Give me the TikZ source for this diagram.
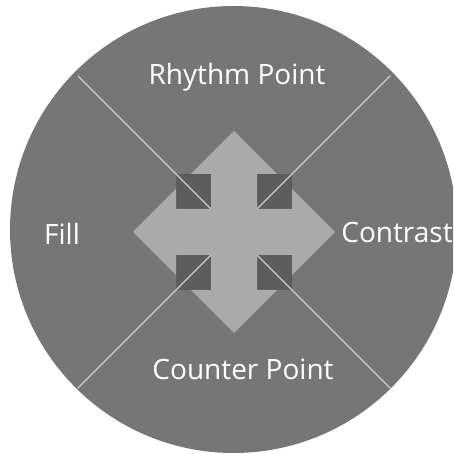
\documentclass[tikz,border=0pt]{standalone}
\usepackage{fontspec}
\setmainfont{Open Sans}
\usetikzlibrary{calc}
\definecolor{discgray}{RGB}{118,118,118}
\definecolor{notchgray}{RGB}{92,92,92}
\definecolor{arrowgray}{RGB}{170,170,170}
\definecolor{splitgray}{RGB}{205,205,205}
\tikzset{
quadlabel/.style={anchor=base, inner sep=0pt, text=white, font=\fontsize{28}{34}\selectfont},
splitline/.style={draw=splitgray, line width=1.3pt},
crossarrow/.style={fill=arrowgray, draw=none}
}

\begin{document}
\begin{tikzpicture}[x=1pt,y=1pt]
\clip (0,0) rectangle (453,454);
\coordinate (disc) at (233.5,224.5);
\coordinate (c) at (234,222);

% background disc and the darker square behind the arrow
\fill[discgray] (disc) circle (223.5);
\fill[notchgray] ($(c)+(-58,-58)$) rectangle ($(c)+(58,58)$);

% four quadrants
\draw[splitline] (c) -- ++(135:221) coordinate (tl);
\draw[splitline] (c) -- ++(45:221) coordinate (tr);
\draw[splitline] (c) -- ++(225:221) coordinate (bl);
\draw[splitline] (c) -- ++(-45:221) coordinate (br);

% four-way arrow
\fill[crossarrow, shift={(c)}]
  (23,58) -- (43,58) -- (0,101) -- (-43,58) -- (-23,58) -- (-23,23)
  -- (-58,23) -- (-58,43) -- (-101,0) -- (-58,-43) -- (-58,-23) -- (-23,-23)
  -- (-23,-58) -- (-43,-58) -- (0,-101) -- (43,-58) -- (23,-58) -- (23,-23)
  -- (58,-23) -- (58,-43) -- (101,0) -- (58,43) -- (58,23) -- (23,23) -- cycle;

\node[quadlabel] (rhythm) at (237,369) {Rhythm Point};
\node[quadlabel] (fill) at (62,209) {Fill};
\node[quadlabel] (contrast) at (397,211) {Contrast};
\node[quadlabel] (counter) at (243,74) {Counter Point};
\end{tikzpicture}
\end{document}
